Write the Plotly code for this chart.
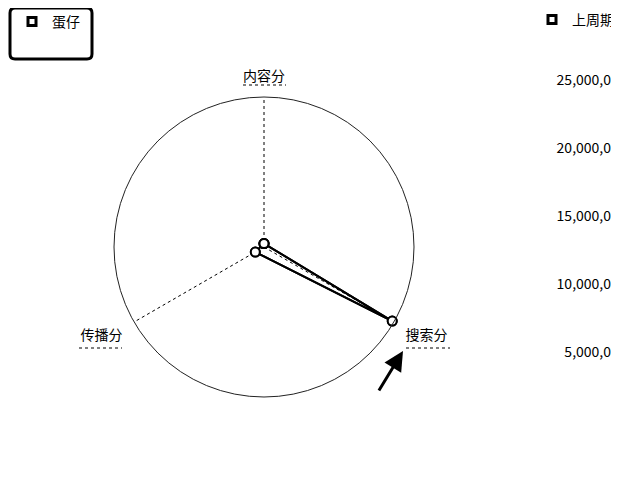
import plotly.graph_objects as go

# ---- data ----
categories = ["内容分", "搜索分", "传播分"]
danzai_values = [2.3, 98.7, 6.7]
last_period_values = [2.3, 98.7, 6.7]
radial_max = 100
right_tick_values = [5e6, 10e6, 15e6, 20e6, 25e6]
right_tick_labels = ["5,000,0", "10,000,0", "15,000,0", "20,000,0", "25,000,0"]

OFF = 8  # the page body has a default 8px margin
W, H = 619 - OFF, 479 - 2 * OFF


def px(x):
    return (x - OFF) / W


def py(y):
    return 1 - (y - OFF) / H


# right value axis: screen y=420 -> 0, 68px per 5,000,000
ZERO_Y, STEP_PX, STEP_V = 420, 68, 5e6
y_top = (ZERO_Y - OFF) / STEP_PX * STEP_V
y_bot = (ZERO_Y - OFF - H) / STEP_PX * STEP_V

FONT = "Noto Sans CJK SC"
fig = go.Figure()

closed_theta = categories + categories[:1]
for name, vals, leg in [("蛋仔", danzai_values, "legend"), ("上周期", last_period_values, "legend2")]:
    fig.add_trace(go.Scatterpolar(
        r=vals + vals[:1], theta=closed_theta, mode="lines+markers",
        line=dict(color="black", width=2),
        marker=dict(symbol="circle", size=9, color="white", line=dict(color="black", width=2)),
        showlegend=False, hoverinfo="skip"))
    fig.add_trace(go.Scatterpolar(
        r=[None], theta=[categories[0]], mode="markers", name=name, legend=leg,
        marker=dict(symbol="square", size=8, color="white", line=dict(color="black", width=3))))

# invisible anchor for the right-hand value axis
fig.add_trace(go.Scatter(x=[None], y=[None], showlegend=False, hoverinfo="skip"))


def dotted(x0, x1, y):
    return dict(type="line", xref="paper", yref="paper", x0=px(x0), x1=px(x1), y0=py(y), y1=py(y),
                line=dict(color="black", width=1, dash="dot"))


fig.update_layout(
    width=W, height=H,
    margin=dict(l=0, r=0, t=0, b=0, autoexpand=False),
    paper_bgcolor="white", plot_bgcolor="rgba(0,0,0,0)",
    font=dict(family=FONT, size=14, color="black"),
    polar=dict(
        domain=dict(x=[px(114), px(414)], y=[py(397), py(97)]),
        bgcolor="rgba(0,0,0,0)",
        angularaxis=dict(
            rotation=90, direction="clockwise",
            showline=True, linecolor="#222", linewidth=1,
            showgrid=True, gridcolor="black", gridwidth=1, griddash="dot",
            ticks="outside", ticklen=10, tickcolor="rgba(0,0,0,0)",
            tickfont=dict(size=14, color="black", family=FONT)),
        radialaxis=dict(range=[0, radial_max], visible=False),
    ),
    xaxis=dict(visible=False, domain=[0, 1]),
    yaxis=dict(
        domain=[0, 1], range=[y_bot, y_top],
        tickvals=right_tick_values, ticktext=right_tick_labels,
        side="right", anchor="free", position=px(614),
        ticklabelposition="inside", showgrid=False, zeroline=False, showline=False, ticks="",
        tickfont=dict(size=14, color="black", family=FONT)),
    legend=dict(x=px(12), y=py(6), xanchor="left", yanchor="top",
                bgcolor="rgba(0,0,0,0)", borderwidth=0, font=dict(size=14)),
    legend2=dict(x=1, y=py(4), xanchor="right", yanchor="top",
                 bgcolor="rgba(0,0,0,0)", borderwidth=0, font=dict(size=14)),
    shapes=[
        dict(type="path", xref="paper", yref="paper",
             path=(f"M {px(15)} {py(8)} L {px(87)} {py(8)} Q {px(92)} {py(8)} {px(92)} {py(13)} "
                   f"L {px(92)} {py(54)} Q {px(92)} {py(59)} {px(87)} {py(59)} "
                   f"L {px(15)} {py(59)} Q {px(10)} {py(59)} {px(10)} {py(54)} "
                   f"L {px(10)} {py(13)} Q {px(10)} {py(8)} {px(15)} {py(8)} Z"),
             line=dict(color="black", width=3)),
        dotted(243, 286, 85),
        dotted(406, 450, 348),
        dotted(79, 122, 348),
    ],
    annotations=[dict(
        x=px(403), y=py(351), xref="paper", yref="paper", text="",
        showarrow=True, ax=-25, ay=41, arrowhead=2, arrowsize=1.3,
        arrowwidth=3, arrowcolor="black")],
)

fig.write_html("out.html")
